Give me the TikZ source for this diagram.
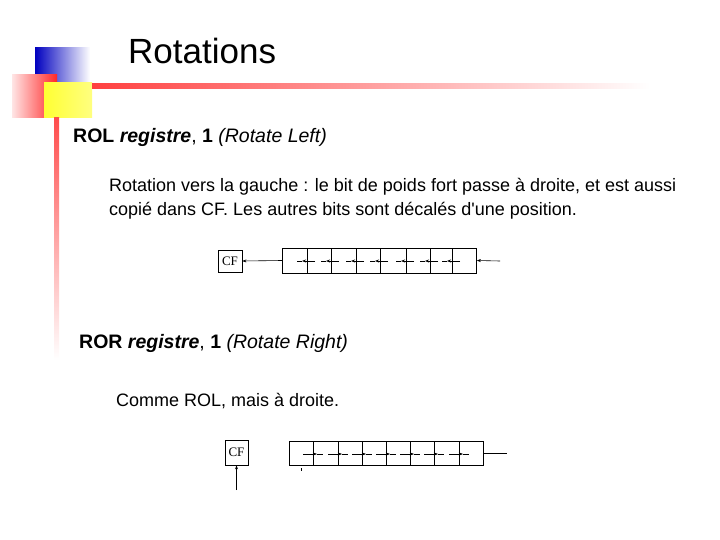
\documentclass[tikz,border=0pt]{standalone}
\usepackage{fontspec}
\setmainfont{Liberation Sans}
\setmonofont{Liberation Serif}
\usetikzlibrary{arrows.meta}
\begin{document}
\begin{tikzpicture}[x=1pt,y=-1pt,
  box/.style={draw,line width=0.7pt},
  arr/.style={-{Stealth[length=4pt,width=3pt]},line width=0.6pt},
  txt/.style={anchor=base west,inner sep=0pt,font=\fontsize{18}{21}\selectfont}]
\useasboundingbox[fill=white] (0,0) rectangle (720,540);
% decorations
\shade[left color=blue!75!black,right color=white] (35,48) rectangle (90,100);
\shade[left color=red!10,right color=red!85] (12,75) rectangle (57,118);
\shade[left color=yellow!80,right color=yellow!50] (44,83) rectangle (92,118);
\shade[left color=red!75,right color=white] (92,84) rectangle (650,89);
\shade[top color=red!70,bottom color=white] (54,118) rectangle (59,360);
% texts
\node[anchor=base west,inner sep=0pt,font=\fontsize{35}{40}\selectfont] (title) at (128,64) {Rotations};
\node[anchor=base west,inner sep=0pt,font=\fontsize{19.5}{22}\selectfont] (rol) at (73,143) {\textbf{ROL} \textbf{\textit{registre}}, \textbf{1} \textit{(Rotate Left)}};
\node[txt] (d1) at (109,192) {Rotation vers la gauche : le bit de poids fort passe à droite, et est aussi};
\node[txt] (d2) at (109,215) {copié dans CF. Les autres bits sont décalés d\textquotesingle une position.};
\node[anchor=base west,inner sep=0pt,font=\fontsize{19.5}{22}\selectfont] (ror) at (79,348) {\textbf{ROR} \textbf{\textit{registre}}, \textbf{1} \textit{(Rotate Right)}};
\node[txt] (d3) at (116,406) {Comme ROL, mais à droite.};
% ROL diagram
\node[box,minimum width=24pt,minimum height=22pt,inner sep=0pt,font=\ttfamily\fontsize{13}{13}\selectfont] (cf1) at (230,261) {CF};
\node[box,minimum width=194pt,minimum height=25pt,inner sep=0pt] (r1) at (379.5,260.5) {};
\foreach \x in {307,331,356,380,406,430,452}{
  \draw[line width=0.7pt] (\x,248) -- (\x,273);
  \draw[arr] (\x+8,261) -- (\x-5,261);
  \draw[line width=0.6pt] (\x-5,261) -- (\x-10,261);
}
\coordinate (rin) at (500,261);
\draw[arr] (r1.west) -- (cf1.east);
\draw[arr] (rin) -- (r1.east);
% ROR diagram
\node[box,minimum width=23pt,minimum height=25pt,inner sep=0pt,font=\ttfamily\fontsize{13}{13}\selectfont] (cf2) at (236.5,452.5) {CF};
\node[box,minimum width=194pt,minimum height=24pt,inner sep=0pt] (r2) at (386,453) {};
\foreach \x in {313,338,362,386,410,434,459}{
  \draw[line width=0.7pt] (\x,441) -- (\x,465);
  \draw[arr] (\x-10,454) -- (\x+4,454);
  \draw[line width=0.6pt] (\x+4,454) -- (\x+10,454);
}
\coordinate (rout) at (507,453);
\coordinate (cfin) at (236.5,490);
\draw[line width=0.7pt] (r2.east) -- (rout);
\draw[arr] (cfin) -- (cf2.south);
\draw[line width=0.8pt] (301,468) -- (301,471);
\end{tikzpicture}
\end{document}
